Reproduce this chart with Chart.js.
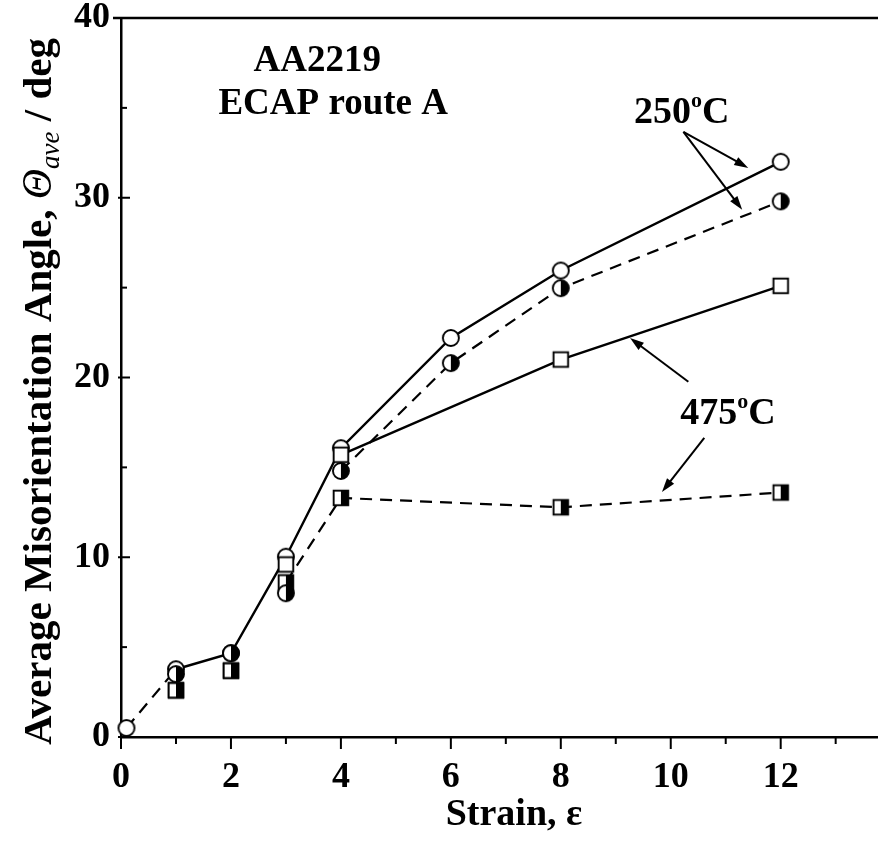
<!DOCTYPE html>
<html><head><meta charset="utf-8">
<script src="https://cdn.jsdelivr.net/npm/chart.js@4/dist/chart.umd.min.js"></script>
<style>html,body{margin:0;padding:0;background:#fff}#wrap{width:878px;height:841px;position:relative}</style>
</head><body><div id="wrap"><canvas id="c" width="878" height="841" style="width:878px;height:841px"></canvas></div>
<script>
// ---- data ----
const strainOpen250 = [0.1, 1, 2, 3, 4, 6, 8, 12];
const angleOpen250  = [0.5, 3.77, 4.66, 10.03, 16.07, 22.2, 25.95, 32.0];
const strainHalf250 = [1, 2, 3, 4, 6, 8, 12];
const angleHalf250  = [3.5, 4.66, 8.0, 14.8, 20.8, 24.97, 29.8];
const strainOpen475 = [1, 2, 3, 4, 8, 12];
const angleOpen475  = [2.6, 3.69, 9.6, 15.7, 21.0, 25.1];
const strainHalf475 = [1, 2, 3, 4, 8, 12];
const angleHalf475  = [2.6, 3.69, 8.6, 13.3, 12.78, 13.6];
const xTickLabels = [0, 2, 4, 6, 8, 10, 12];
const yTickLabels = [0, 10, 20, 30, 40];
const xMinorTicks = [1, 3, 5, 7, 9, 11, 13];
const yMinorTicks = [5, 15, 25, 35];
const textNotes = [
  {text: 'AA2219', x: 3.57, y: 37.6},
  {text: 'ECAP route A', x: 3.86, y: 35.2}
];
const tempNotes = [
  {num: '250', unit: 'C', x: 10.2, y: 34.9},
  {num: '475', unit: 'C', x: 11.04, y: 18.15}
];
const arrows = [
  {from: [10.23, 33.67], to: [11.41, 31.66]},
  {from: [10.23, 33.67], to: [11.30, 29.33]},
  {from: [10.32, 19.76], to: [9.26, 22.2]},
  {from: [10.61, 16.64], to: [9.84, 13.63]}
];

const SERIF = "'Liberation Serif', 'Times New Roman', serif";

function toXY(xs, ys) { return xs.map((x, i) => ({x: x, y: ys[i]})); }

function makeMarker(shape, half) {
  const c = document.createElement('canvas');
  c.width = 22; c.height = 22;
  const g = c.getContext('2d');
  const cx = 11, cy = 11;
  g.lineWidth = 1.9; g.strokeStyle = '#000';
  if (shape === 'circle') {
    const r = 8;
    g.beginPath(); g.arc(cx, cy, r, 0, Math.PI * 2); g.fillStyle = '#fff'; g.fill();
    if (half) { g.beginPath(); g.moveTo(cx, cy - r); g.arc(cx, cy, r, -Math.PI / 2, Math.PI / 2); g.closePath(); g.fillStyle = '#000'; g.fill(); }
    g.beginPath(); g.arc(cx, cy, r, 0, Math.PI * 2); g.stroke();
  } else {
    const s = 7.3;
    g.fillStyle = '#fff'; g.fillRect(cx - s, cy - s, 2 * s, 2 * s);
    if (half) { g.fillStyle = '#000'; g.fillRect(cx, cy - s, s, 2 * s); }
    g.strokeRect(cx - s, cy - s, 2 * s, 2 * s);
  }
  return c;
}

const mOpenCircle = makeMarker('circle', false);
const mHalfCircle = makeMarker('circle', true);
const mOpenSquare = makeMarker('square', false);
const mHalfSquare = makeMarker('square', true);

const DASH = [12, 8];

const overlay = {
  id: 'overlay',
  afterDraw(chart) {
    const ctx = chart.ctx, xs = chart.scales.x, ys = chart.scales.y, a = chart.chartArea;
    ctx.save();
    ctx.strokeStyle = '#000'; ctx.fillStyle = '#000';
    // top frame line
    ctx.lineWidth = 2.5;
    ctx.beginPath(); ctx.moveTo(a.left - 8, a.top); ctx.lineTo(a.right, a.top); ctx.stroke();
    // y ticks
    ctx.lineWidth = 2;
    yTickLabels.forEach(v => { const p = ys.getPixelForValue(v); ctx.beginPath(); ctx.moveTo(a.left - 3, p); ctx.lineTo(a.left + 9, p); ctx.stroke(); });
    yMinorTicks.forEach(v => { const p = ys.getPixelForValue(v); ctx.beginPath(); ctx.moveTo(a.left, p); ctx.lineTo(a.left + 6, p); ctx.stroke(); });
    // x ticks (outward)
    xTickLabels.forEach(v => { const p = xs.getPixelForValue(v); ctx.beginPath(); ctx.moveTo(p, a.bottom); ctx.lineTo(p, a.bottom + 12); ctx.stroke(); });
    xMinorTicks.forEach(v => { const p = xs.getPixelForValue(v); ctx.beginPath(); ctx.moveTo(p, a.bottom); ctx.lineTo(p, a.bottom + 7); ctx.stroke(); });

    // annotation texts
    ctx.textAlign = 'center'; ctx.textBaseline = 'middle';
    ctx.font = 'bold 37px ' + SERIF;
    textNotes.forEach(t => ctx.fillText(t.text, xs.getPixelForValue(t.x), ys.getPixelForValue(t.y)));
    tempNotes.forEach(t => {
      const big = 'bold 38px ' + SERIF, small = 'bold 22px ' + SERIF;
      ctx.font = big; const w1 = ctx.measureText(t.num).width, w3 = ctx.measureText(t.unit).width;
      ctx.font = small; const w2 = ctx.measureText('o').width;
      const cx = xs.getPixelForValue(t.x), cy = ys.getPixelForValue(t.y);
      let x0 = cx - (w1 + w2 + w3) / 2;
      ctx.textAlign = 'left'; ctx.textBaseline = 'alphabetic';
      const base = cy + 13;
      ctx.font = big; ctx.fillText(t.num, x0, base); x0 += w1;
      ctx.font = small; ctx.fillText('o', x0, base - 16); x0 += w2;
      ctx.font = big; ctx.fillText(t.unit, x0, base);
    });
    // arrows
    ctx.lineWidth = 2;
    arrows.forEach(ar => {
      const x1 = xs.getPixelForValue(ar.from[0]), y1 = ys.getPixelForValue(ar.from[1]);
      const x2 = xs.getPixelForValue(ar.to[0]), y2 = ys.getPixelForValue(ar.to[1]);
      const ang = Math.atan2(y2 - y1, x2 - x1), L = 14, W = 4.5;
      ctx.beginPath(); ctx.moveTo(x1, y1); ctx.lineTo(x2 - L * 0.8 * Math.cos(ang), y2 - L * 0.8 * Math.sin(ang)); ctx.stroke();
      ctx.beginPath();
      ctx.moveTo(x2, y2);
      ctx.lineTo(x2 - L * Math.cos(ang) + W * Math.sin(ang), y2 - L * Math.sin(ang) - W * Math.cos(ang));
      ctx.lineTo(x2 - L * Math.cos(ang) - W * Math.sin(ang), y2 - L * Math.sin(ang) + W * Math.cos(ang));
      ctx.closePath(); ctx.fill();
    });

    // x axis title
    ctx.font = 'bold 38px ' + SERIF;
    ctx.textAlign = 'center'; ctx.textBaseline = 'alphabetic';
    ctx.fillText('Strain, \u03b5', a.left + 393, a.bottom + 88);

    // y axis title with italic symbol and subscript
    const parts = [
      {t: 'Average Misorientation Angle, ', f: 'bold 41px ' + SERIF, dy: 0},
      {t: '\u0398', f: 'italic 42px ' + SERIF, dy: 0},
      {t: 'ave', f: 'italic 27px ' + SERIF, dy: 8},
      {t: ' / deg', f: 'bold 41px ' + SERIF, dy: 0}
    ];
    ctx.save();
    ctx.translate(51, 745);
    ctx.rotate(-Math.PI / 2);
    ctx.textAlign = 'left'; ctx.textBaseline = 'alphabetic';
    let px = 0;
    parts.forEach(p => { ctx.font = p.f; ctx.fillText(p.t, px, p.dy); px += ctx.measureText(p.t).width; });
    ctx.restore();
    ctx.restore();
  }
};

const commonDs = {borderColor: '#000', borderWidth: 2.4, fill: false, tension: 0, pointRadius: 8, pointHoverRadius: 8, clip: false};
const hideBelow = lim => c => c.p0.parsed.x < lim ? 'rgba(0,0,0,0)' : '#000';

new Chart(document.getElementById('c'), {
  type: 'scatter',
  data: {
    datasets: [
      Object.assign({}, commonDs, {
        label: '250 C half', data: toXY(strainHalf250, angleHalf250), showLine: true,
        pointStyle: mHalfCircle, borderWidth: 2.2, borderDash: DASH,
        segment: {borderColor: hideBelow(4)}
      }),
      Object.assign({}, commonDs, {
        label: '475 C half', data: toXY(strainHalf475, angleHalf475), showLine: true,
        pointStyle: mHalfSquare, borderWidth: 2.2, borderDash: DASH,
        segment: {borderColor: hideBelow(3)}
      }),
      Object.assign({}, commonDs, {
        label: '475 C open', data: toXY(strainOpen475, angleOpen475), showLine: true,
        pointStyle: mOpenSquare,
        segment: {borderColor: hideBelow(4)}
      }),
      Object.assign({}, commonDs, {
        label: '250 C open', data: toXY(strainOpen250, angleOpen250), showLine: true,
        pointStyle: mOpenCircle,
        segment: {borderDash: c => c.p0DataIndex === 0 ? DASH : undefined, borderWidth: c => c.p0DataIndex === 0 ? 2.2 : 2.4}
      })
    ]
  },
  options: {
    responsive: false, animation: false, devicePixelRatio: 1,
    layout: {padding: {top: 18, right: 0, left: 0, bottom: 0}, autoPadding: false},
    plugins: {legend: {display: false}, tooltip: {enabled: false}},
    scales: {
      x: {
        type: 'linear', min: 0, max: 13.77,
        afterBuildTicks: s => { s.ticks = xTickLabels.map(v => ({value: v})); },
        afterFit: s => { s.height = 104; s.paddingLeft = 0; s.paddingRight = 0; },
        grid: {display: false, drawTicks: false},
        border: {display: true, color: '#000', width: 2.5},
        ticks: {color: '#000', font: {family: SERIF, size: 36, weight: 'bold'}, padding: 19, maxRotation: 0, autoSkip: false},
        title: {display: false}
      },
      y: {
        min: 0, max: 40,
        afterBuildTicks: s => { s.ticks = yTickLabels.map(v => ({value: v})); },
        afterFit: s => { s.width = 121; s.paddingTop = 0; s.paddingBottom = 0; },
        grid: {display: false, drawTicks: false},
        border: {display: true, color: '#000', width: 2.5},
        ticks: {color: '#000', font: {family: SERIF, size: 36, weight: 'bold'}, padding: 11, autoSkip: false}
      }
    }
  },
  plugins: [overlay]
});
</script>
</body></html>
